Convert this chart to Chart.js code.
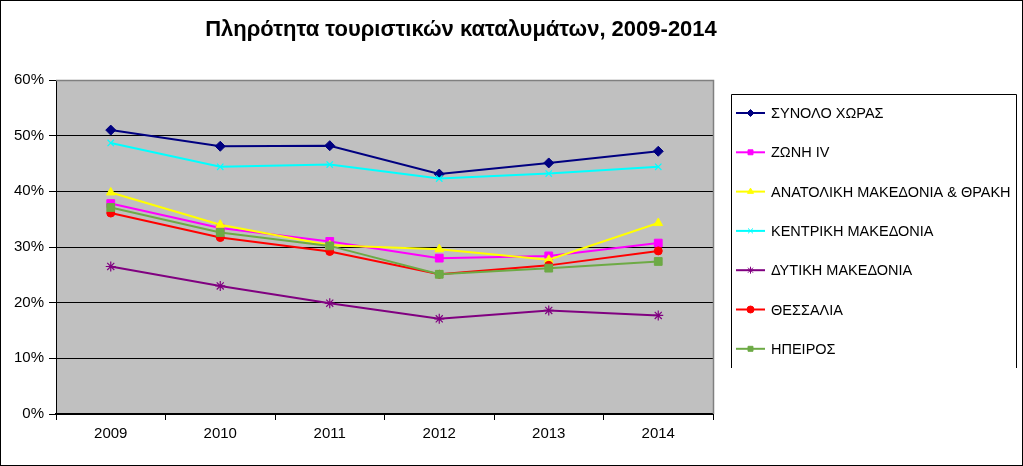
<!DOCTYPE html>
<html><head><meta charset="utf-8">
<script src="https://cdn.jsdelivr.net/npm/chart.js@4/dist/chart.umd.min.js"></script>
<style>html,body{margin:0;padding:0;background:#fff}#wrap{width:1023px;height:466px;position:relative}</style>
</head><body><div id="wrap"><canvas id="c" width="1023" height="466"></canvas></div>
<script>
const titleText = 'Πληρότητα τουριστικών καταλυμάτων, 2009-2014';
const years = ['2009','2010','2011','2012','2013','2014'];
const seriesNames = ['ΣΥΝΟΛΟ ΧΩΡΑΣ','ΖΩΝΗ IV','ΑΝΑΤΟΛΙΚΗ ΜΑΚΕΔΟΝΙΑ & ΘΡΑΚΗ','ΚΕΝΤΡΙΚΗ ΜΑΚΕΔΟΝΙΑ','ΔΥΤΙΚΗ ΜΑΚΕΔΟΝΙΑ','ΘΕΣΣΑΛΙΑ','ΗΠΕΙΡΟΣ'];
const synolo   = [0.510, 0.481, 0.482, 0.431, 0.451, 0.472];
const zoni4    = [0.378, 0.334, 0.310, 0.280, 0.284, 0.307];
const anatoliki= [0.398, 0.340, 0.303, 0.296, 0.277, 0.343];
const kentriki = [0.487, 0.444, 0.448, 0.423, 0.432, 0.444];
const dytiki   = [0.265, 0.230, 0.199, 0.171, 0.186, 0.177];
const thessalia= [0.361, 0.317, 0.292, 0.251, 0.267, 0.293];
const ipeiros  = [0.371, 0.326, 0.302, 0.251, 0.262, 0.274];
const yTicks = [0, 0.1, 0.2, 0.3, 0.4, 0.5, 0.6];

const values = [synolo, zoni4, anatoliki, kentriki, dytiki, thessalia, ipeiros];
const colors = ['#000080','#FF00FF','#FFFF00','#00FFFF','#800080','#FF0000','#6DAA45'];
const styles = ['rectRot','rect','triangle','crossRot','star','circle','rect'];
const radii  = [5,5.5,5,4.5,5,4,5.5];
const FONT = '"Liberation Sans", Arial, sans-serif';

const datasets = values.map((v,i)=>({
  label: seriesNames[i], data: v, borderColor: colors[i], backgroundColor: colors[i],
  pointStyle: styles[i], pointRadius: radii[i], pointBorderColor: colors[i],
  pointBackgroundColor: colors[i], pointBorderWidth: (styles[i]==='crossRot'||styles[i]==='star')?1.2:1,
  borderWidth: 2, tension: 0, order: values.length - i
}));

const decor = {
  id: 'decor',
  beforeDraw(chart){
    const ctx = chart.ctx, a = chart.chartArea;
    ctx.save();
    ctx.fillStyle = '#fff'; ctx.fillRect(0,0,chart.width,chart.height);
    ctx.fillStyle = '#C0C0C0'; ctx.fillRect(a.left, a.top, a.right-a.left, a.bottom-a.top);
    ctx.restore();
  },
  afterDraw(chart){
    const ctx = chart.ctx, a = chart.chartArea;
    ctx.save();
    ctx.strokeStyle = '#808080'; ctx.lineWidth = 1.5;
    ctx.beginPath(); ctx.moveTo(a.left, a.top+0.5); ctx.lineTo(a.right+0.5, a.top+0.5); ctx.lineTo(a.right+0.5, a.bottom); ctx.stroke();
    ctx.strokeStyle = '#000'; ctx.lineWidth = 1;
    ctx.strokeRect(0.5,0.5,chart.width-1,chart.height-1);
    ctx.fillStyle = '#000'; ctx.font = 'bold 22px ' + FONT;
    ctx.textAlign = 'center'; ctx.textBaseline = 'middle';
    ctx.fillText(titleText, 461, 30);
    const lx = 731.5, ly = 94.5, lr = 1016.5, lb = 368;
    ctx.strokeStyle = '#000'; ctx.lineWidth = 1;
    ctx.beginPath(); ctx.moveTo(lx, lb); ctx.lineTo(lx, ly); ctx.lineTo(lr, ly); ctx.lineTo(lr, lb); ctx.stroke();
    ctx.font = '14.5px ' + FONT; ctx.textAlign = 'left';
    datasets.forEach((d,i)=>{
      const y = 113 + i*39.3;
      ctx.strokeStyle = d.borderColor; ctx.lineWidth = 2;
      ctx.beginPath(); ctx.moveTo(736, y); ctx.lineTo(765, y); ctx.stroke();
      ctx.fillStyle = d.backgroundColor; ctx.lineWidth = 1;
      Chart.helpers.drawPoint(ctx, {pointStyle: d.pointStyle, radius: 3.5, rotation: 0, borderWidth: 1}, 750.5, y);
      ctx.fillStyle = '#000';
      ctx.fillText(d.label, 771, y+1);
    });
    ctx.restore();
  }
};

new Chart(document.getElementById('c'), {
  type: 'line',
  data: { labels: years, datasets },
  options: {
    responsive: false, animation: false, devicePixelRatio: 1,
    layout: { padding: { left: 0, right: 310, top: 80, bottom: 0 } },
    plugins: { legend: { display: false }, title: { display: false }, tooltip: { enabled: false } },
    scales: {
      x: {
        offset: true,
        grid: { display: true, drawOnChartArea: false, drawTicks: true, tickLength: 6, color: '#000', offset: true },
        border: { display: true, color: '#000', width: 2 },
        ticks: { color: '#000', font: { family: FONT, size: 15 }, padding: 5 },
        afterFit(s){ s.height = 52; }
      },
      y: {
        min: 0, max: 0.6,
        afterBuildTicks(s){ s.ticks = yTicks.map(v=>({value:v})); },
        grid: { color: '#000', lineWidth: 1, tickLength: 7, drawTicks: true },
        border: { display: true, color: '#000', width: 1 },
        ticks: { color: '#000', font: { family: FONT, size: 15 }, padding: 5,
          callback: v => Math.round(v*100) + '%' },
        afterFit(s){ s.width = 56; }
      }
    }
  },
  plugins: [decor]
});
</script></body></html>
